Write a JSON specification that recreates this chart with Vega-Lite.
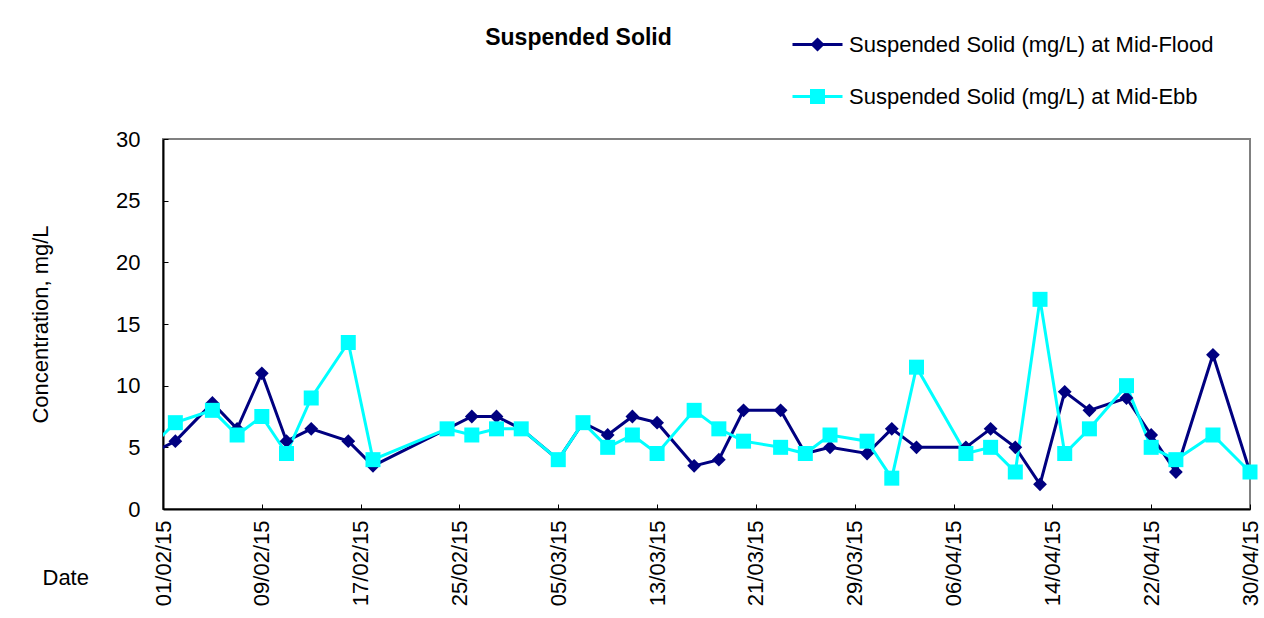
{
  "$schema": "https://vega.github.io/schema/vega-lite/v6.json",
  "autosize": {"type": "none"},
  "padding": {"left": 163, "top": 139, "right": 14, "bottom": 109},
  "width": 1087,
  "height": 370,
  "background": "white",
  "config": {
    "font": "Liberation Sans",
    "view": {"stroke": "#808080", "strokeWidth": 2},
    "axis": {"grid": false}
  },
  "title": {
    "text": "Suspended Solid",
    "fontSize": 23,
    "fontWeight": "bold",
    "color": "black",
    "anchor": "middle",
    "frame": "group",
    "dx": -128,
    "offset": 0,
    "dy": 32
  },
  "data": {
    "values": [
      {"date": "2015-01-30", "series": "Suspended Solid (mg/L) at Mid-Flood", "value": 4},
      {"date": "2015-02-02", "series": "Suspended Solid (mg/L) at Mid-Flood", "value": 5.5},
      {"date": "2015-02-05", "series": "Suspended Solid (mg/L) at Mid-Flood", "value": 8.6},
      {"date": "2015-02-07", "series": "Suspended Solid (mg/L) at Mid-Flood", "value": 6.5},
      {"date": "2015-02-09", "series": "Suspended Solid (mg/L) at Mid-Flood", "value": 11},
      {"date": "2015-02-11", "series": "Suspended Solid (mg/L) at Mid-Flood", "value": 5.5},
      {"date": "2015-02-13", "series": "Suspended Solid (mg/L) at Mid-Flood", "value": 6.5},
      {"date": "2015-02-16", "series": "Suspended Solid (mg/L) at Mid-Flood", "value": 5.5},
      {"date": "2015-02-18", "series": "Suspended Solid (mg/L) at Mid-Flood", "value": 3.5},
      {"date": "2015-02-24", "series": "Suspended Solid (mg/L) at Mid-Flood", "value": 6.5},
      {"date": "2015-02-26", "series": "Suspended Solid (mg/L) at Mid-Flood", "value": 7.5},
      {"date": "2015-02-28", "series": "Suspended Solid (mg/L) at Mid-Flood", "value": 7.5},
      {"date": "2015-03-02", "series": "Suspended Solid (mg/L) at Mid-Flood", "value": 6.5},
      {"date": "2015-03-05", "series": "Suspended Solid (mg/L) at Mid-Flood", "value": 4},
      {"date": "2015-03-07", "series": "Suspended Solid (mg/L) at Mid-Flood", "value": 7},
      {"date": "2015-03-09", "series": "Suspended Solid (mg/L) at Mid-Flood", "value": 6},
      {"date": "2015-03-11", "series": "Suspended Solid (mg/L) at Mid-Flood", "value": 7.5},
      {"date": "2015-03-13", "series": "Suspended Solid (mg/L) at Mid-Flood", "value": 7},
      {"date": "2015-03-16", "series": "Suspended Solid (mg/L) at Mid-Flood", "value": 3.5},
      {"date": "2015-03-18", "series": "Suspended Solid (mg/L) at Mid-Flood", "value": 4},
      {"date": "2015-03-20", "series": "Suspended Solid (mg/L) at Mid-Flood", "value": 8},
      {"date": "2015-03-23", "series": "Suspended Solid (mg/L) at Mid-Flood", "value": 8},
      {"date": "2015-03-25", "series": "Suspended Solid (mg/L) at Mid-Flood", "value": 4.5},
      {"date": "2015-03-27", "series": "Suspended Solid (mg/L) at Mid-Flood", "value": 5},
      {"date": "2015-03-30", "series": "Suspended Solid (mg/L) at Mid-Flood", "value": 4.5},
      {"date": "2015-04-01", "series": "Suspended Solid (mg/L) at Mid-Flood", "value": 6.5},
      {"date": "2015-04-03", "series": "Suspended Solid (mg/L) at Mid-Flood", "value": 5},
      {"date": "2015-04-07", "series": "Suspended Solid (mg/L) at Mid-Flood", "value": 5},
      {"date": "2015-04-09", "series": "Suspended Solid (mg/L) at Mid-Flood", "value": 6.5},
      {"date": "2015-04-11", "series": "Suspended Solid (mg/L) at Mid-Flood", "value": 5},
      {"date": "2015-04-13", "series": "Suspended Solid (mg/L) at Mid-Flood", "value": 2},
      {"date": "2015-04-15", "series": "Suspended Solid (mg/L) at Mid-Flood", "value": 9.5},
      {"date": "2015-04-17", "series": "Suspended Solid (mg/L) at Mid-Flood", "value": 8},
      {"date": "2015-04-20", "series": "Suspended Solid (mg/L) at Mid-Flood", "value": 9},
      {"date": "2015-04-22", "series": "Suspended Solid (mg/L) at Mid-Flood", "value": 6},
      {"date": "2015-04-24", "series": "Suspended Solid (mg/L) at Mid-Flood", "value": 3},
      {"date": "2015-04-27", "series": "Suspended Solid (mg/L) at Mid-Flood", "value": 12.5},
      {"date": "2015-04-30", "series": "Suspended Solid (mg/L) at Mid-Flood", "value": 3},
      {"date": "2015-01-30", "series": "Suspended Solid (mg/L) at Mid-Ebb", "value": 4},
      {"date": "2015-02-02", "series": "Suspended Solid (mg/L) at Mid-Ebb", "value": 7},
      {"date": "2015-02-05", "series": "Suspended Solid (mg/L) at Mid-Ebb", "value": 8},
      {"date": "2015-02-07", "series": "Suspended Solid (mg/L) at Mid-Ebb", "value": 6},
      {"date": "2015-02-09", "series": "Suspended Solid (mg/L) at Mid-Ebb", "value": 7.5},
      {"date": "2015-02-11", "series": "Suspended Solid (mg/L) at Mid-Ebb", "value": 4.5},
      {"date": "2015-02-13", "series": "Suspended Solid (mg/L) at Mid-Ebb", "value": 9},
      {"date": "2015-02-16", "series": "Suspended Solid (mg/L) at Mid-Ebb", "value": 13.5},
      {"date": "2015-02-18", "series": "Suspended Solid (mg/L) at Mid-Ebb", "value": 4},
      {"date": "2015-02-24", "series": "Suspended Solid (mg/L) at Mid-Ebb", "value": 6.5},
      {"date": "2015-02-26", "series": "Suspended Solid (mg/L) at Mid-Ebb", "value": 6},
      {"date": "2015-02-28", "series": "Suspended Solid (mg/L) at Mid-Ebb", "value": 6.5},
      {"date": "2015-03-02", "series": "Suspended Solid (mg/L) at Mid-Ebb", "value": 6.5},
      {"date": "2015-03-05", "series": "Suspended Solid (mg/L) at Mid-Ebb", "value": 4},
      {"date": "2015-03-07", "series": "Suspended Solid (mg/L) at Mid-Ebb", "value": 7},
      {"date": "2015-03-09", "series": "Suspended Solid (mg/L) at Mid-Ebb", "value": 5},
      {"date": "2015-03-11", "series": "Suspended Solid (mg/L) at Mid-Ebb", "value": 6},
      {"date": "2015-03-13", "series": "Suspended Solid (mg/L) at Mid-Ebb", "value": 4.5},
      {"date": "2015-03-16", "series": "Suspended Solid (mg/L) at Mid-Ebb", "value": 8},
      {"date": "2015-03-18", "series": "Suspended Solid (mg/L) at Mid-Ebb", "value": 6.5},
      {"date": "2015-03-20", "series": "Suspended Solid (mg/L) at Mid-Ebb", "value": 5.5},
      {"date": "2015-03-23", "series": "Suspended Solid (mg/L) at Mid-Ebb", "value": 5},
      {"date": "2015-03-25", "series": "Suspended Solid (mg/L) at Mid-Ebb", "value": 4.5},
      {"date": "2015-03-27", "series": "Suspended Solid (mg/L) at Mid-Ebb", "value": 6},
      {"date": "2015-03-30", "series": "Suspended Solid (mg/L) at Mid-Ebb", "value": 5.5},
      {"date": "2015-04-01", "series": "Suspended Solid (mg/L) at Mid-Ebb", "value": 2.5},
      {"date": "2015-04-03", "series": "Suspended Solid (mg/L) at Mid-Ebb", "value": 11.5},
      {"date": "2015-04-07", "series": "Suspended Solid (mg/L) at Mid-Ebb", "value": 4.5},
      {"date": "2015-04-09", "series": "Suspended Solid (mg/L) at Mid-Ebb", "value": 5},
      {"date": "2015-04-11", "series": "Suspended Solid (mg/L) at Mid-Ebb", "value": 3},
      {"date": "2015-04-13", "series": "Suspended Solid (mg/L) at Mid-Ebb", "value": 17},
      {"date": "2015-04-15", "series": "Suspended Solid (mg/L) at Mid-Ebb", "value": 4.5},
      {"date": "2015-04-17", "series": "Suspended Solid (mg/L) at Mid-Ebb", "value": 6.5},
      {"date": "2015-04-20", "series": "Suspended Solid (mg/L) at Mid-Ebb", "value": 10},
      {"date": "2015-04-22", "series": "Suspended Solid (mg/L) at Mid-Ebb", "value": 5},
      {"date": "2015-04-24", "series": "Suspended Solid (mg/L) at Mid-Ebb", "value": 4},
      {"date": "2015-04-27", "series": "Suspended Solid (mg/L) at Mid-Ebb", "value": 6},
      {"date": "2015-04-30", "series": "Suspended Solid (mg/L) at Mid-Ebb", "value": 3}
    ]
  },
  "encoding": {
    "x": {
      "field": "date",
      "type": "temporal",
      "scale": {
        "type": "utc",
        "domain": [
          {"year": 2015, "month": 2, "date": 1, "utc": true},
          {"year": 2015, "month": 4, "date": 30, "utc": true}
        ]
      },
      "axis": {
        "title": "Date",
        "titleFontSize": 22,
        "titleFontWeight": "normal",
        "titleColor": "black",
        "titleAngle": 0,
        "titleAlign": "left",
        "titleBaseline": "middle",
        "titleX": -121,
        "titleY": 68,
        "labelExpr": "utcFormat(datum.value, '%d/%m/%y')",
        "labelAngle": -90,
        "labelFontSize": 22,
        "labelColor": "black",
        "labelPadding": 16,
        "labelOverlap": false,
        "labelFlush": false,
        "tickSize": -5,
        "tickColor": "black",
        "tickWidth": 1,
        "domainColor": "black",
        "domainWidth": 2,
        "values": [
          {"year": 2015, "month": 2, "date": 1, "utc": true},
          {"year": 2015, "month": 2, "date": 9, "utc": true},
          {"year": 2015, "month": 2, "date": 17, "utc": true},
          {"year": 2015, "month": 2, "date": 25, "utc": true},
          {"year": 2015, "month": 3, "date": 5, "utc": true},
          {"year": 2015, "month": 3, "date": 13, "utc": true},
          {"year": 2015, "month": 3, "date": 21, "utc": true},
          {"year": 2015, "month": 3, "date": 29, "utc": true},
          {"year": 2015, "month": 4, "date": 6, "utc": true},
          {"year": 2015, "month": 4, "date": 14, "utc": true},
          {"year": 2015, "month": 4, "date": 22, "utc": true},
          {"year": 2015, "month": 4, "date": 30, "utc": true}
        ]
      }
    },
    "y": {
      "field": "value",
      "type": "quantitative",
      "scale": {"domain": [0, 30], "nice": false, "zero": true},
      "axis": {
        "title": "Concentration, mg/L",
        "titleFontSize": 22,
        "titleFontWeight": "normal",
        "titleColor": "black",
        "titleAngle": -90,
        "titleAlign": "center",
        "titleBaseline": "middle",
        "titleX": -123,
        "titleY": 185,
        "values": [0, 5, 10, 15, 20, 25, 30],
        "labelFontSize": 22,
        "labelColor": "black",
        "labelPadding": 28,
        "tickSize": -5,
        "tickColor": "black",
        "tickWidth": 1,
        "domainColor": "black",
        "domainWidth": 2
      }
    },
    "color": {
      "field": "series",
      "type": "nominal",
      "scale": {
        "domain": ["Suspended Solid (mg/L) at Mid-Flood", "Suspended Solid (mg/L) at Mid-Ebb"],
        "range": ["#000080", "#00FFFF"]
      },
      "legend": {
        "title": null,
        "orient": "none",
        "legendX": 628,
        "legendY": -121,
        "padding": 0,
        "labelFontSize": 22,
        "labelColor": "black",
        "labelOffset": 5,
        "labelLimit": 600,
        "rowPadding": 14,
        "symbolSize": 2500,
        "symbolStrokeWidth": 3,
        "symbolType": "M-1,0L1,0",
        "encode": {
          "symbols": {
            "update": {
              "shape": {"signal": "indexof(datum.value, 'Flood') >= 0 ? 'M-1,0L1,0M0,-0.2L0.2,0L0,0.2L-0.2,0Z' : 'M-1,0L1,0M-0.24,-0.24L0.24,-0.24L0.24,0.24L-0.24,0.24Z'"},
              "size": {"value": 2500},
              "fill": {"signal": "scale('color', datum.value)"},
              "stroke": {"signal": "scale('color', datum.value)"},
              "strokeWidth": {"value": 3},
              "opacity": {"value": 1}
            }
          }
        }
      }
    }
  },
  "layer": [
    {
      "mark": {"type": "line", "strokeWidth": 3, "clip": true}
    },
    {
      "transform": [
        {"filter": {"field": "date", "gte": {"year": 2015, "month": 2, "date": 1, "utc": true}}},
        {"filter": {"field": "series", "equal": "Suspended Solid (mg/L) at Mid-Flood"}}
      ],
      "mark": {"type": "point", "filled": true, "opacity": 1, "shape": "diamond", "size": 190}
    },
    {
      "transform": [
        {"filter": {"field": "date", "gte": {"year": 2015, "month": 2, "date": 1, "utc": true}}},
        {"filter": {"field": "series", "equal": "Suspended Solid (mg/L) at Mid-Ebb"}}
      ],
      "mark": {"type": "point", "filled": true, "opacity": 1, "shape": "square", "size": 225}
    }
  ]
}
